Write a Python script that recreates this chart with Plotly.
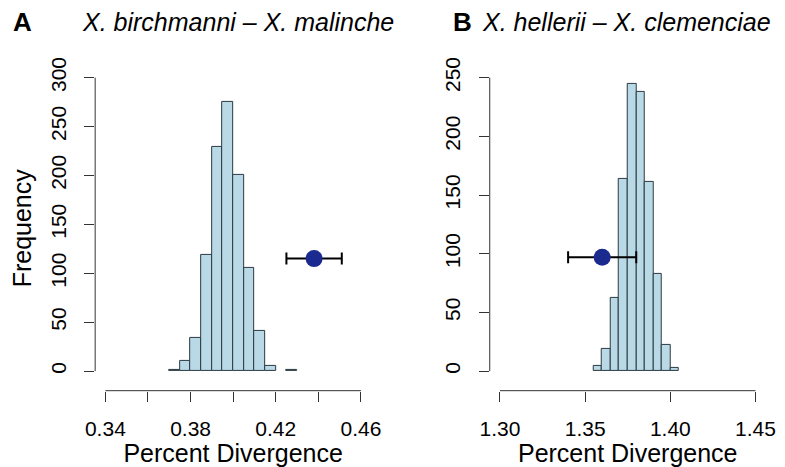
import plotly.graph_objects as go

# panel A: X. birchmanni - X. malinche
a_bin_left = [0.370, 0.375, 0.380, 0.385, 0.390, 0.395, 0.400, 0.405, 0.410, 0.415, 0.425]
a_counts = [1, 10, 34, 119, 229, 275, 201, 106, 41, 5, 1]
a_obs = 0.438
a_obs_err = 0.013
a_obs_freq = 115

# panel B: X. hellerii - X. clemenciae
b_bin_left = [1.355, 1.360, 1.365, 1.370, 1.375, 1.380, 1.385, 1.390, 1.395, 1.400]
b_counts = [4, 19, 62, 164, 245, 238, 161, 83, 22, 3]
b_obs = 1.36
b_obs_err = 0.02
b_obs_freq = 97

bin_w = 0.005

# the page body has an 8px margin, so the figure starts at (8, 8) in the window
OFF = 8
W, H = 785 - OFF, 467 - OFF

FONT = "Liberation Sans, Arial, sans-serif"
AXC = "#333333"
BAR_FILL = "#B9D9E7"
PT = "#1B2A8F"

fig = go.Figure()

def add_panel(bins, counts, obs, err, freq, xa, ya):
    fig.add_trace(go.Bar(
        x=[b + bin_w / 2 for b in bins], y=counts, width=bin_w,
        marker=dict(color=BAR_FILL, line=dict(color="#2b3a40", width=1)),
        xaxis=xa, yaxis=ya, showlegend=False))
    fig.add_trace(go.Scatter(
        x=[obs], y=[freq], mode="markers",
        marker=dict(color=PT, size=17),
        error_x=dict(type="data", array=[err], color="black", thickness=2, width=6),
        xaxis=xa, yaxis=ya, showlegend=False))

add_panel(a_bin_left, a_counts, a_obs, a_obs_err, a_obs_freq, "x", "y")
add_panel(b_bin_left, b_counts, b_obs, b_obs_err, b_obs_freq, "x2", "y2")

# window pixel -> paper fraction
def px_x(p):
    return (p - OFF) / W

def px_y(p):
    return 1 - (p - OFF) / H

tickfont = dict(family=FONT, size=21, color="black")
titlefont = dict(family=FONT, size=25, color="black")

common_x = dict(showgrid=False, zeroline=False, showline=False, ticks="outside",
                ticklen=10, tickcolor=AXC, tickfont=tickfont, title_font=titlefont,
                ticklabelstandoff=9)
common_y = dict(showgrid=False, zeroline=False, showline=False, ticks="outside",
                ticklen=10, tickcolor=AXC, tickfont=tickfont, tickangle=-90,
                ticklabelstandoff=10)

fig.update_layout(
    width=W, height=H, margin=dict(l=0, r=0, t=0, b=0),
    paper_bgcolor="white", plot_bgcolor="white", bargap=0,
    xaxis=dict(common_x, domain=[px_x(87.2), px_x(370.5)], range=[0.3352, 0.4648],
               tickvals=[0.34, 0.36, 0.38, 0.40, 0.42, 0.44, 0.46],
               ticktext=["0.34", "", "0.38", "", "0.42", "", "0.46"],
               title=dict(text="Percent Divergence", standoff=10), anchor="y"),
    yaxis=dict(common_y, domain=[px_y(390), px_y(58)], range=[-20, 312],
               tickvals=[0, 50, 100, 150, 200, 250, 300], anchor="x",
               title=dict(text="Frequency", font=titlefont, standoff=16)),
    xaxis2=dict(common_x, domain=[px_x(492.2), px_x(775.5)], range=[1.294, 1.456],
                tickvals=[1.30, 1.35, 1.40, 1.45], tickformat=".2f",
                title=dict(text="Percent Divergence", standoff=10), anchor="y2"),
    yaxis2=dict(common_y, domain=[px_y(390), px_y(58)], range=[-16.7, 260],
                tickvals=[0, 50, 100, 150, 200, 250], anchor="x2"),
)

# R-style axis lines that stop at the outer ticks
axis_lines = [("x", "y", 0.34, 0.46, 0, 300), ("x2", "y2", 1.30, 1.45, 0, 250)]
for xa, ya, x0, x1, y0, y1 in axis_lines:
    fig.add_shape(type="line", xref=xa, yref=ya + " domain", x0=x0, x1=x1, y0=0, y1=0,
                  line=dict(color=AXC, width=1))
    fig.add_shape(type="line", xref=xa + " domain", yref=ya, x0=0, x1=0, y0=y0, y1=y1,
                  line=dict(color=AXC, width=1))

# panel letters and titles
for letter, lx in [("A", 1), ("B", 452)]:
    fig.add_annotation(text="<b>" + letter + "</b>", x=px_x(lx), y=px_y(13),
                       xref="paper", yref="paper", xanchor="left", yanchor="middle",
                       showarrow=False, font=dict(family=FONT, size=26, color="black"))
for title, cx in [("<i>X. birchmanni – X. malinche</i>", 233.5),
                  ("<i>X. hellerii – X. clemenciae</i>", 632.5)]:
    fig.add_annotation(text=title, x=px_x(cx), y=px_y(13), xref="paper", yref="paper",
                       xanchor="center", yanchor="middle", showarrow=False,
                       font=dict(family=FONT, size=25, color="black"))

fig.write_html("out.html")
